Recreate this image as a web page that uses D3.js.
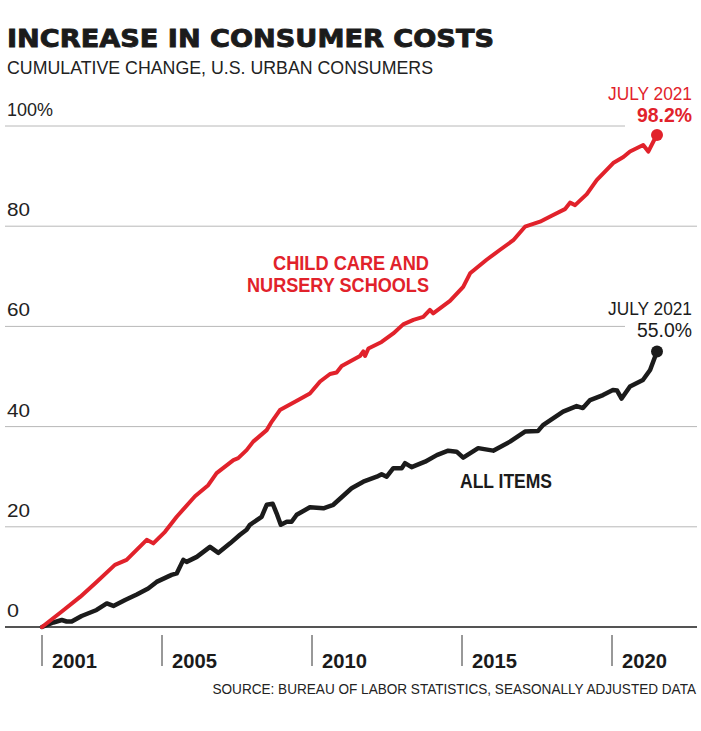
<!DOCTYPE html>
<html><head><meta charset="utf-8">
<script src="https://cdn.jsdelivr.net/npm/d3@7"></script>
<style>
html,body{margin:0;padding:0;background:#fff;}
svg{display:block;}
</style></head>
<body>
<svg id="chart" width="701" height="731"></svg>
<script>
// ---- data (decimal year, cumulative % change) ----
const allItemsYears = [2001.0,2001.38,2001.66,2001.82,2001.99,2002.32,2002.82,2003.16,2003.38,2003.77,2004.16,2004.54,2004.82,2005.32,2005.49,2005.71,2005.82,2006.16,2006.6,2006.88,2007.27,2007.6,2007.82,2007.93,2008.32,2008.49,2008.69,2008.82,2008.96,2009.16,2009.32,2009.49,2009.93,2010.38,2010.71,2011.32,2011.71,2012.16,2012.32,2012.49,2012.71,2012.99,2013.1,2013.32,2013.77,2014.16,2014.54,2014.82,2015.04,2015.54,2016.04,2016.6,2017.1,2017.53,2017.7,2018.37,2018.82,2019.03,2019.27,2019.7,2020.03,2020.17,2020.32,2020.6,2021.03,2021.27,2021.5];
const allItemsValues = [0,0.9,1.4,1.1,1.1,2.2,3.4,4.7,4.2,5.4,6.5,7.7,9.0,10.4,10.7,13.4,13.0,14.0,16.0,14.8,16.7,18.4,19.4,20.4,22.0,24.4,24.6,22.7,20.4,21.0,21.0,22.4,23.9,23.7,24.4,27.7,29.0,30.0,30.5,30.0,31.7,31.7,32.7,31.9,33.0,34.3,35.2,35.0,33.8,35.7,35.2,37.0,39.0,39.1,40.3,43.0,44.1,43.7,45.3,46.3,47.3,47.2,45.6,48.0,49.3,51.3,55.0];

const childCareYears = [2001.0,2001.66,2002.27,2002.82,2003.43,2003.82,2004.49,2004.71,2005.1,2005.49,2006.04,2006.1,2006.54,2006.82,2007.38,2007.54,2007.82,2008.04,2008.49,2008.66,2008.93,2009.54,2009.93,2010.27,2010.6,2010.82,2010.99,2011.6,2011.71,2011.77,2011.88,2012.32,2012.71,2013.04,2013.38,2013.71,2013.93,2014.04,2014.6,2015.04,2015.27,2015.82,2016.27,2016.71,2017.1,2017.6,2017.99,2018.43,2018.6,2018.77,2019.16,2019.49,2020.04,2020.38,2020.6,2021.04,2021.21,2021.38,2021.5];
const childCareValues = [0,3.1,6.0,9.0,12.4,13.4,17.4,16.7,19.0,22.0,25.7,26.1,28.3,30.7,33.3,33.7,35.3,37.0,39.3,41.0,43.3,45.3,46.6,49.0,50.5,50.8,52.1,54.1,55.0,54.1,55.6,56.9,58.6,60.4,61.3,61.9,63.3,62.6,65.1,67.9,70.6,73.3,75.3,77.2,79.9,80.9,82.1,83.4,84.7,84.2,86.4,89.2,92.6,93.8,94.9,96.2,94.9,96.9,98.2];

const yTicks = [0,20,40,60,80,100];
const xTicks = [2001,2005,2010,2015,2020];
const endLabel = "JULY 2021";

// ---- drawing ----
const RED = "#e1222b", BLACK = "#1b1b1b";
const NARROW = "'Liberation Sans Narrow','Arial Narrow','Liberation Sans',sans-serif";
const svg = d3.select("#chart");

const x = d3.scaleLinear().domain([2001, 2021.5]).range([42, 657]);
const y = d3.scaleLinear().domain([0, 100]).range([627, 126]);

function fit(sel, w){ return sel.attr("textLength", w).attr("lengthAdjust","spacingAndGlyphs"); }

// title / subtitle
fit(svg.append("text").attr("x",7).attr("y",47)
  .attr("font-family","'DejaVu Sans',sans-serif").attr("font-weight","bold")
  .attr("font-size",25).attr("fill",BLACK).attr("stroke",BLACK).attr("stroke-width",0.9)
  .text("INCREASE IN CONSUMER COSTS"), 487);
fit(svg.append("text").attr("x",7).attr("y",74)
  .attr("font-family",NARROW).attr("font-size",18).attr("fill","#222")
  .text("CUMULATIVE CHANGE, U.S. URBAN CONSUMERS"), 426);

// gridlines
const g = svg.append("g");
g.selectAll("line.grid").data(yTicks.filter(d => d !== 0)).join("line")
  .attr("class","grid")
  .attr("x1",5).attr("x2",d => (d === 100 || d === 60) ? 625 : 697)
  .attr("y1",d => y(d)).attr("y2",d => y(d))
  .attr("stroke","#b8b8b8").attr("stroke-width",1);

// y tick labels
g.selectAll("text.ytick").data(yTicks).join("text")
  .attr("class","ytick")
  .attr("x",7).attr("y",d => y(d) - 10)
  .attr("font-family",NARROW).attr("font-size",19).attr("fill","#222")
  .attr("textLength",d => d === 100 ? 46 : (d === 0 ? 12 : 23))
  .attr("lengthAdjust","spacingAndGlyphs")
  .text(d => d === 100 ? d + "%" : d);

// baseline
svg.append("line").attr("x1",5).attr("x2",697).attr("y1",y(0)).attr("y2",y(0))
  .attr("stroke",BLACK).attr("stroke-width",1.6);

// x axis ticks
const xa = svg.append("g");
xa.selectAll("line").data(xTicks).join("line")
  .attr("x1",d => x(d)).attr("x2",d => x(d)).attr("y1",635).attr("y2",666)
  .attr("stroke","#333").attr("stroke-width",1);
xa.selectAll("text").data(xTicks).join("text")
  .attr("x",d => x(d) + 10).attr("y",668)
  .attr("font-family",NARROW).attr("font-weight","bold").attr("font-size",21)
  .attr("fill",BLACK).attr("textLength",45).attr("lengthAdjust","spacingAndGlyphs")
  .text(d => d);

// source (scaled horizontally to fit its width)
const srcG = svg.append("g");
const src = srcG.append("text").attr("x",0).attr("y",0).attr("text-anchor","end")
  .attr("font-family",NARROW).attr("font-size",15).attr("fill","#222")
  .text("SOURCE: BUREAU OF LABOR STATISTICS, SEASONALLY ADJUSTED DATA");
const srcW = src.node().getComputedTextLength();
const k = Math.min(1, 484 / srcW);
srcG.attr("transform", `translate(696,694) scale(${k},1)`);

// lines
const line = d3.line().x(d => x(d[0])).y(d => y(d[1])).curve(d3.curveLinear);
const ccData = d3.zip(childCareYears, childCareValues);
const aiData = d3.zip(allItemsYears, allItemsValues);

svg.append("path").datum(aiData).attr("d",line)
  .attr("fill","none").attr("stroke",BLACK).attr("stroke-width",4.5)
  .attr("stroke-linejoin","round").attr("stroke-linecap","round");
svg.append("path").datum(ccData).attr("d",line)
  .attr("fill","none").attr("stroke",RED).attr("stroke-width",4)
  .attr("stroke-linejoin","round").attr("stroke-linecap","round");

// end dots
const lastCC = ccData[ccData.length-1], lastAI = aiData[aiData.length-1];
svg.append("circle").attr("cx",x(lastCC[0])).attr("cy",y(lastCC[1])).attr("r",6).attr("fill",RED);
svg.append("circle").attr("cx",x(lastAI[0])).attr("cy",y(lastAI[1])).attr("r",6).attr("fill",BLACK);

// end labels
function endLabels(val, color, yBase){
  fit(svg.append("text").attr("x",692).attr("y",yBase).attr("text-anchor","end")
    .attr("font-family",NARROW).attr("font-size",19).attr("fill",color)
    .text(endLabel), 84);
  fit(svg.append("text").attr("x",692).attr("y",yBase+22).attr("text-anchor","end")
    .attr("font-family",NARROW).attr("font-weight", color === RED ? "bold" : "normal")
    .attr("font-size",20).attr("fill",color)
    .text(val.toFixed(1) + "%"), 55);
}
endLabels(lastCC[1], RED, 100);
endLabels(lastAI[1], BLACK, 315);

// series labels
fit(svg.append("text").attr("x",429).attr("y",270).attr("text-anchor","end")
  .attr("font-family",NARROW).attr("font-weight","bold").attr("font-size",20).attr("fill",RED)
  .text("CHILD CARE AND"), 156);
fit(svg.append("text").attr("x",429).attr("y",292).attr("text-anchor","end")
  .attr("font-family",NARROW).attr("font-weight","bold").attr("font-size",20).attr("fill",RED)
  .text("NURSERY SCHOOLS"), 182);
fit(svg.append("text").attr("x",460).attr("y",488)
  .attr("font-family",NARROW).attr("font-weight","bold").attr("font-size",20).attr("fill",BLACK)
  .text("ALL ITEMS"), 92);
</script>
</body></html>
